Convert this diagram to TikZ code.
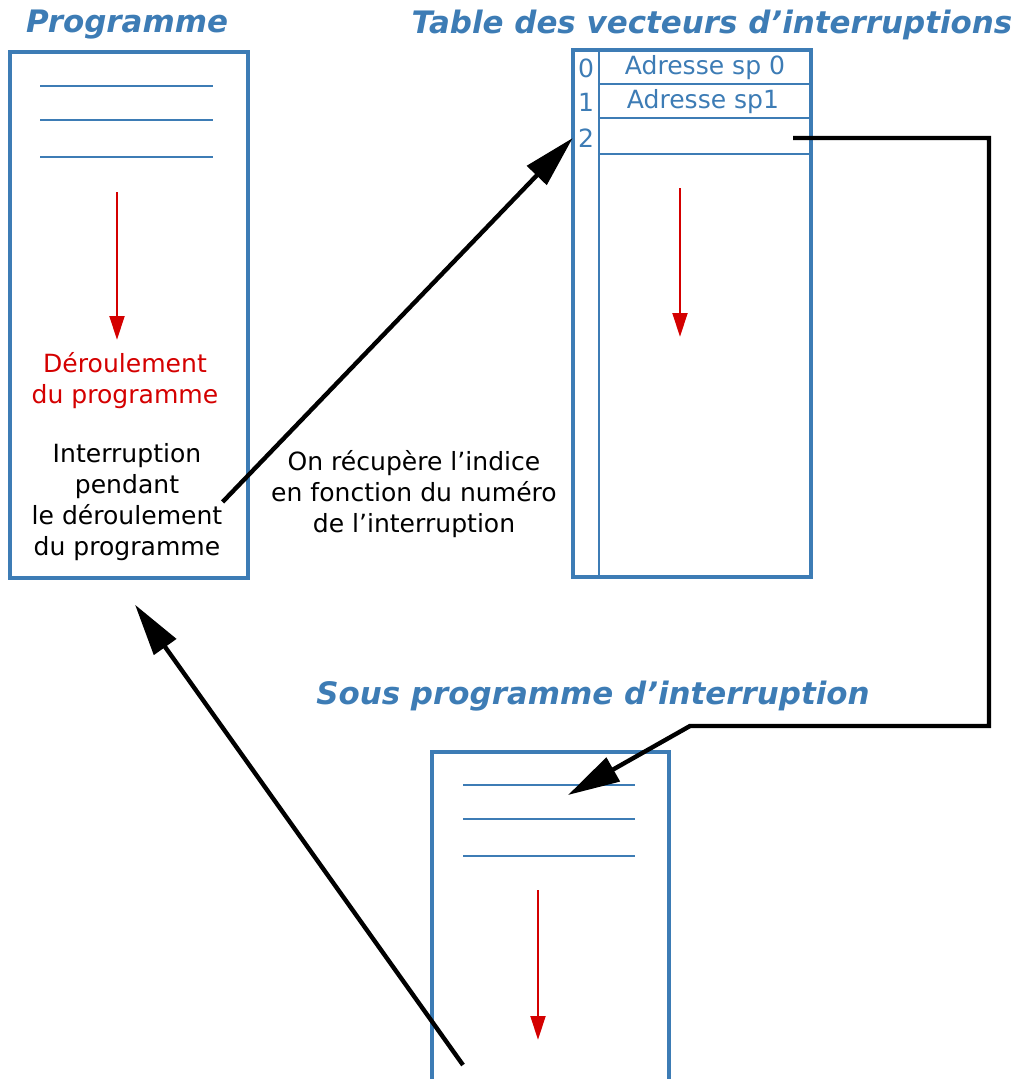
\documentclass[tikz,border=0pt]{standalone}
\usepackage{fontspec}
\setmainfont{DejaVu Sans}
\usetikzlibrary{arrows.meta}

\definecolor{itblue}{RGB}{61,124,181}
\definecolor{itred}{RGB}{212,0,0}
\newcommand{\txtsize}{\fontsize{18.8}{23.25}\selectfont}
\newcommand{\ttlsize}{\fontsize{23.2}{28}\selectfont\bfseries\itshape}

\begin{document}
\begin{tikzpicture}[x=0.75pt,y=-0.75pt,
    boxframe/.style={draw=itblue, line width=2.5pt, inner sep=0pt},
    rule/.style={itblue, line width=2.2pt},
    flow/.style={itred, line width=2.2pt, -{Triangle[length=18pt,width=11pt]}},
    jump/.style={black, line width=3.3pt, -{Triangle[length=39pt,width=20pt]}},
    heading/.style={text=itblue, font=\ttlsize, inner sep=0pt},
    txt/.style={font=\txtsize, align=center, inner sep=0pt},
    idx/.style={font=\txtsize, text=itblue, inner sep=0pt, minimum width=19.5pt}]
    \useasboundingbox (0,0) rectangle (1016,1079);

    % titles
    \node[heading] (tprog) at (127,25) {Programme};
    \node[heading] (ttab) at (712,25) {Table des vecteurs d’interruptions};
    \node[heading] (tsub) at (593,696) {Sous programme d’interruption};

    % programme
    \node[boxframe, minimum width=178.5pt, minimum height=394.5pt] (prog) at (129,315) {};
    \foreach \y in {86,120,157} \draw[rule] (40,\y) -- (213,\y);
    \draw[flow] (117,192) -- (117,340);
    \node[txt, text=itred] (deroul) at (125,381) {Déroulement\\du programme};
    \node[txt] (interr) at (127,502) {Interruption\\pendant\\le déroulement\\du programme};

    % table des vecteurs
    \node[boxframe, minimum width=178.5pt, minimum height=395.25pt] (tab) at (692,313.5) {};
    \draw[rule] (599,50) -- (599,577);
    \foreach \y in {84,118,154} \draw[rule] (599,\y) -- (811,\y);
    \node[idx] (i0) at (586,68) {0};
    \node[idx] (i1) at (586,102) {1};
    \node[idx] (i2) at (586,138) {2};
    \node[txt, text=itblue] (a0) at (705,68) {Adresse sp 0};
    \node[txt, text=itblue] (a1) at (703,102) {Adresse sp1};
    \coordinate (a2) at (793,138);
    \draw[flow] (680,188) -- (680,337);

    \node[txt] (note) at (414,494) {On récupère l’indice\\en fonction du numéro\\de l’interruption};

    % sous programme
    \draw[itblue, line width=2.5pt] (432,1085) -- (432,752) -- (669,752) -- (669,1085);
    \foreach \y in {785,819,856} \draw[rule] (463,\y) -- (635,\y);
    \draw[flow] (538,890) -- (538,1040);
    \coordinate (subin) at (568,795);
    \coordinate (subout) at (463,1065);

    % sauts
    \draw[jump] (interr.east) -- (i2.west);
    \draw[jump] (a2) -- (989,138) -- (989,726) -- (690,726) -- (subin);
    \draw[jump] (subout) -- ([shift={(4.5pt,-18.75pt)}]prog.south);
\end{tikzpicture}
\end{document}
